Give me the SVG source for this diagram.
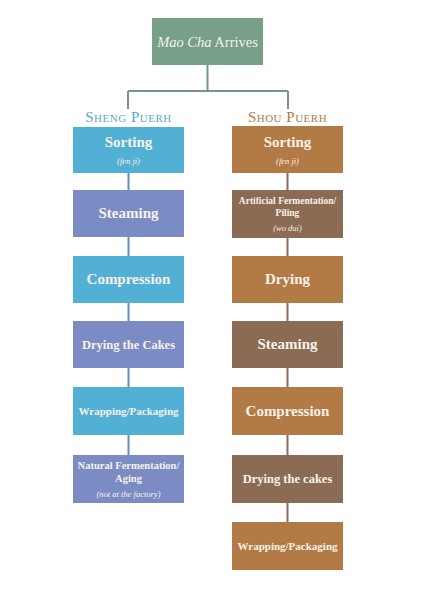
<svg xmlns="http://www.w3.org/2000/svg" width="424" height="615" viewBox="0 0 424 615">
<style>
text{font-family:"Liberation Serif","DejaVu Serif",serif;fill:#f7f2ea;text-anchor:middle}
.t{font-weight:bold;font-size:15px}
.s{font-weight:bold;font-size:12.5px}
.x{font-weight:bold;font-size:11px}
.i{font-style:italic;font-size:8.5px}
.lb{fill:#52b0d5}
.pu{fill:#7b8cc4}
.or{fill:#b27b45}
.br{fill:#8c6b55}
.hd{font-size:15px;font-variant:small-caps;letter-spacing:0.5px}
</style>
<rect width="424" height="615" fill="#ffffff"/>
<g id="connectors" fill="none" stroke-width="2">
<path d="M207.5 65V91M128 91H288M128 91V109M288 91V109" stroke="#6f9a7e"/>
<path d="M128.5 173V190M128.5 237V256M128.5 303V321M128.5 368V387M128.5 435V455" stroke="#5f8fc2"/>
<path d="M287.5 173V190M287.5 238V256M287.5 303V321M287.5 368V387M287.5 435V455M287.5 503V522" stroke="#8c6b55"/>
</g>
<g id="top"><rect x="152" y="18" width="111" height="47" fill="#789f88"/><text x="207.5" y="47" style="font-size:14.5px"><tspan font-style="italic">Mao Cha</tspan> Arrives</text></g>
<g id="sheng-label"><text x="128.5" y="122" class="hd" style="fill:#5aa8cf">Sheng Puerh</text></g>
<g id="shou-label"><text x="287.5" y="122" class="hd" style="fill:#b07a42">Shou Puerh</text></g>
<g id="l1"><rect class="lb" x="73" y="127" width="111" height="46"/><text class="t" x="128.5" y="147">Sorting</text><text class="i" x="128.5" y="164">(fen ji)</text></g>
<g id="l2"><rect class="pu" x="73" y="190" width="111" height="47"/><text class="t" x="128.5" y="218">Steaming</text></g>
<g id="l3"><rect class="lb" x="73" y="256" width="111" height="47"/><text class="t" x="128.5" y="284">Compression</text></g>
<g id="l4"><rect class="pu" x="73" y="321" width="111" height="47"/><text class="s" x="128.5" y="349">Drying the Cakes</text></g>
<g id="l5"><rect class="lb" x="73" y="387" width="111" height="48"/><text class="x" x="128.5" y="415">Wrapping/Packaging</text></g>
<g id="l6"><rect class="pu" x="73" y="455" width="111" height="48"/><text class="x" x="128.5" y="469" style="font-size:10.5px">Natural Fermentation/</text><text class="x" x="128.5" y="482" style="font-size:10.5px">Aging</text><text class="i" x="128.5" y="497">(not at the factory)</text></g>
<g id="r1"><rect class="or" x="232" y="126" width="111" height="47"/><text class="t" x="287.5" y="147">Sorting</text><text class="i" x="287.5" y="164">(fen ji)</text></g>
<g id="r2"><rect class="br" x="232" y="190" width="111" height="48"/><text class="x" x="287.5" y="204" style="font-size:9.5px">Artificial Fermentation/</text><text class="x" x="287.5" y="216" style="font-size:9.5px">Piling</text><text class="i" x="287.5" y="231">(wo dui)</text></g>
<g id="r3"><rect class="or" x="232" y="256" width="111" height="47"/><text class="t" x="287.5" y="284">Drying</text></g>
<g id="r4"><rect class="br" x="232" y="321" width="111" height="47"/><text class="t" x="287.5" y="349">Steaming</text></g>
<g id="r5"><rect class="or" x="232" y="387" width="111" height="48"/><text class="t" x="287.5" y="416">Compression</text></g>
<g id="r6"><rect class="br" x="232" y="455" width="111" height="48"/><text class="s" x="287.5" y="483">Drying the cakes</text></g>
<g id="r7"><rect class="or" x="232" y="522" width="111" height="48"/><text class="x" x="287.5" y="550">Wrapping/Packaging</text></g>
</svg>
